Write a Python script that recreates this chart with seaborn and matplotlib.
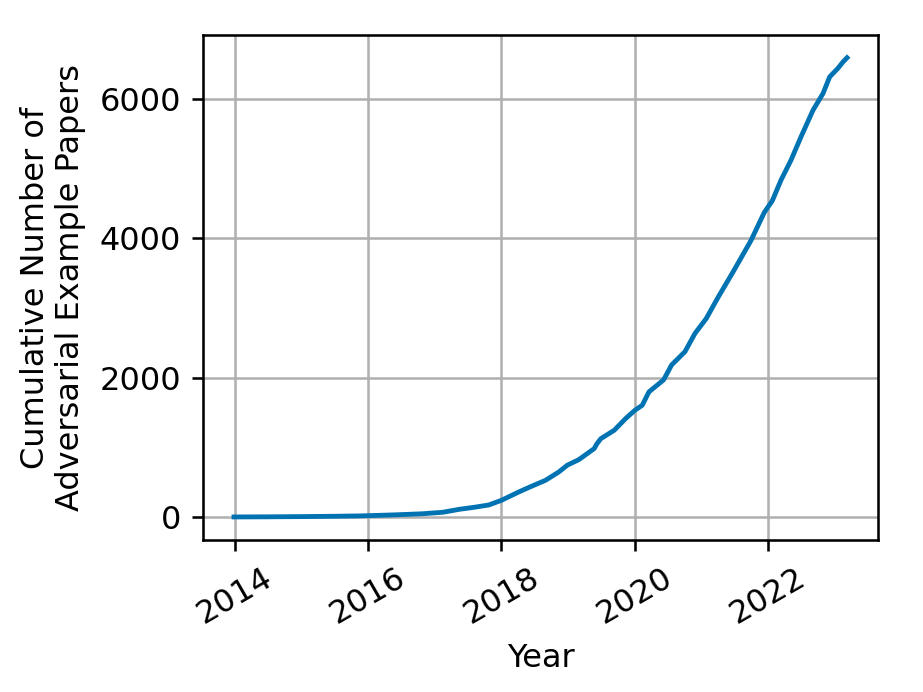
import matplotlib
matplotlib.use("Agg")
import matplotlib.pyplot as plt
import seaborn as sns
import pandas as pd

years = [2013.99, 2014.5, 2015.0, 2015.5, 2015.87, 2016.37, 2016.8, 2017.12, 2017.37,
         2017.6, 2017.81, 2018.0, 2018.26, 2018.45, 2018.66, 2018.86, 2018.985, 2019.16,
         2019.39, 2019.43, 2019.49, 2019.69, 2019.86, 2020.0, 2020.11, 2020.21, 2020.43,
         2020.55, 2020.75, 2020.90, 2021.07, 2021.25, 2021.47, 2021.74, 2021.94, 2022.06,
         2022.19, 2022.34, 2022.49, 2022.67, 2022.82, 2022.92, 2023.04, 2023.12, 2023.18]
papers = [0, 2, 5, 10, 15, 29, 45, 67, 110,
          140, 172, 239, 359, 440, 526, 646, 742, 823,
          981, 1050, 1124, 1244, 1411, 1531, 1603, 1794, 1967,
          2181, 2371, 2633, 2848, 3157, 3514, 3967, 4371, 4538,
          4833, 5120, 5455, 5837, 6077, 6316, 6435, 6530, 6590]
xticks = [2014, 2016, 2018, 2020, 2022]
yticks = [0, 2000, 4000, 6000]

df = pd.DataFrame({"Year": years, "Papers": papers})

plt.rcParams["font.family"] = ["DejaVu Sans"]
fig = plt.figure(figsize=(4, 3), dpi=230.75)
ax = fig.add_axes([0.2203, 0.2197, 0.7306, 0.7297])
sns.lineplot(data=df, x="Year", y="Papers", ax=ax, color="#0173B2", linewidth=1.5)
ax.grid(True, color="#b0b0b0", linewidth=0.8)
ax.set_axisbelow(True)
ax.set_xticks(xticks)
ax.set_xticklabels([str(t) for t in xticks], rotation=30)
ax.set_yticks(yticks)
ax.set_yticklabels([str(t) for t in yticks])
ax.set_xlabel("Year")
ax.set_ylabel("Cumulative Number of\nAdversarial Example Papers")
for s in ax.spines.values():
    s.set_color("black")
fig.savefig("out.png", dpi=230.75)
